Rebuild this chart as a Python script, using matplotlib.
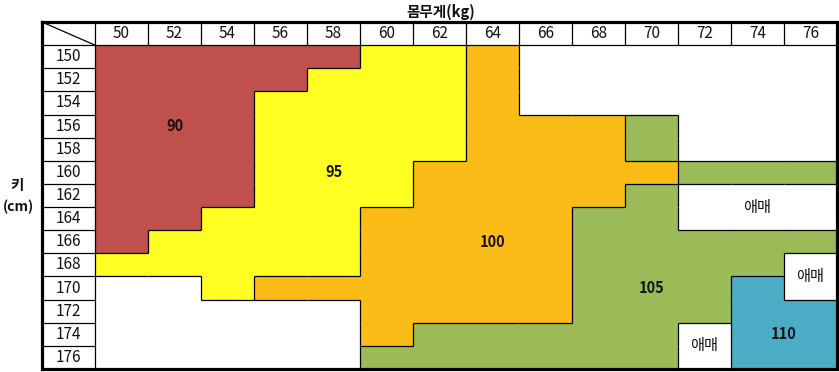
import matplotlib
matplotlib.use("Agg")
import matplotlib.pyplot as plt
import numpy as np
from matplotlib.colors import ListedColormap, BoundaryNorm
from matplotlib.collections import LineCollection

plt.rcParams['font.family'] = ['Noto Sans CJK KR', 'DejaVu Sans']

# ---- data ----
weights = [50, 52, 54, 56, 58, 60, 62, 64, 66, 68, 70, 72, 74, 76]
heights = [150, 152, 154, 156, 158, 160, 162, 164, 166, 168, 170, 172, 174, 176]
# size per (height row, weight column); 0 = blank, 1 = 애매 (ambiguous)
size_150 = [90, 90, 90, 90, 90, 95, 95, 100, 0, 0, 0, 0, 0, 0]
size_152 = [90, 90, 90, 90, 95, 95, 95, 100, 0, 0, 0, 0, 0, 0]
size_154 = [90, 90, 90, 95, 95, 95, 95, 100, 0, 0, 0, 0, 0, 0]
size_156 = [90, 90, 90, 95, 95, 95, 95, 100, 100, 100, 105, 0, 0, 0]
size_158 = [90, 90, 90, 95, 95, 95, 95, 100, 100, 100, 105, 0, 0, 0]
size_160 = [90, 90, 90, 95, 95, 95, 100, 100, 100, 100, 100, 105, 105, 105]
size_162 = [90, 90, 90, 95, 95, 95, 100, 100, 100, 100, 105, 1, 1, 1]
size_164 = [90, 90, 95, 95, 95, 100, 100, 100, 100, 105, 105, 1, 1, 1]
size_166 = [90, 95, 95, 95, 95, 100, 100, 100, 100, 105, 105, 105, 105, 105]
size_168 = [95, 95, 95, 95, 95, 100, 100, 100, 100, 105, 105, 105, 105, 1]
size_170 = [0, 0, 95, 100, 100, 100, 100, 100, 100, 105, 105, 105, 110, 1]
size_172 = [0, 0, 0, 0, 0, 100, 100, 100, 100, 105, 105, 105, 110, 110]
size_174 = [0, 0, 0, 0, 0, 100, 105, 105, 105, 105, 105, 1, 110, 110]
size_176 = [0, 0, 0, 0, 0, 105, 105, 105, 105, 105, 105, 1, 110, 110]
size_rows = [size_150, size_152, size_154, size_156, size_158, size_160, size_162,
             size_164, size_166, size_168, size_170, size_172, size_174, size_176]

size_codes = [0, 1, 90, 95, 100, 105, 110]
size_colors = ['#FFFFFF', '#FFFFFF', '#C0504D', '#FFFF21', '#FCBC18', '#9BBB59', '#4BACC6']

title_text = '몸무게(kg)'
ylabel_lines = ['키', '(cm)']
ambig_text = '애매'

# ---- figure ----
W, H = 839, 372
fig = plt.figure(figsize=(W / 100, H / 100), dpi=100)
ax = fig.add_axes([42 / W, 3 / H, 795 / W, 347 / H])
ax.set_xlim(-1, len(weights))
ax.set_ylim(len(heights), -1)
ax.set_axis_off()

grid = np.array(size_rows)
idx = np.vectorize(lambda v: size_codes.index(v))(grid)
cmap = ListedColormap(size_colors)
norm = BoundaryNorm(np.arange(-0.5, len(size_codes) + 0.5, 1), cmap.N)
xe = np.arange(0, len(weights) + 1)
ye = np.arange(0, len(heights) + 1)
ax.pcolormesh(xe, ye, idx, cmap=cmap, norm=norm, shading='flat')

segs = []
nr, nc = grid.shape
# region boundaries inside the body
for r in range(nr):
    for c in range(nc - 1):
        if grid[r, c] != grid[r, c + 1]:
            segs.append([(c + 1, r), (c + 1, r + 1)])
for r in range(nr - 1):
    for c in range(nc):
        if grid[r, c] != grid[r + 1, c]:
            segs.append([(c, r + 1), (c + 1, r + 1)])
# header separators
for c in range(nc + 1):
    segs.append([(c, -1), (c, 0)])
for r in range(nr + 1):
    segs.append([(-1, r), (0, r)])
segs.append([(0, 0), (nc, 0)])
segs.append([(0, 0), (0, nr)])
# diagonal in corner
segs.append([(-1, -1), (0, 0)])
ax.add_collection(LineCollection(segs, colors='black', linewidths=0.9))

# outer frame
frame = LineCollection([[(-1, -1), (nc, -1), (nc, nr), (-1, nr), (-1, -1)]],
                       colors='black', linewidths=2.3, capstyle='projecting',
                       joinstyle='miter')
frame.set_clip_on(False)
ax.add_collection(frame)

# header labels
for c, w in enumerate(weights):
    ax.text(c + 0.5, -0.5, str(w), ha='center', va='center', fontsize=11, color='#111111')
for r, h in enumerate(heights):
    ax.text(-0.5, r + 0.5, str(h), ha='center', va='center', fontsize=11, color='#111111')

# size labels
def col(w):
    return weights.index(w)

def row(h):
    return heights.index(h)

label_kw = dict(ha='center', va='center', fontsize=10.5, fontweight='bold', color='#111111')
ax.text(col(52) + 0.5, row(156) + 0.5, '90', **label_kw)
ax.text(col(58) + 0.5, row(160) + 0.5, '95', **label_kw)
ax.text(col(64) + 0.5, row(166) + 0.5, '100', **label_kw)
ax.text(col(70) + 0.5, row(170) + 0.5, '105', **label_kw)
ax.text(col(76), row(174) + 0.5, '110', **label_kw)

amb_kw = dict(ha='center', va='center', fontsize=11, color='#111111')
ax.text(col(74) + 0.5, row(164), ambig_text, **amb_kw)
ax.text(col(76) + 0.5, row(170), ambig_text, **amb_kw)
ax.text(col(72) + 0.5, row(176), ambig_text, **amb_kw)

# titles
fig.text(441 / W, 1 - 12 / H, title_text, ha='center', va='center',
         fontsize=10.5, fontweight='bold', color='#111111')
fig.text(17 / W, 1 - 185 / H, ylabel_lines[0], ha='center', va='center',
         fontsize=10.5, fontweight='bold', color='#111111')
fig.text(18 / W, 1 - 207 / H, ylabel_lines[1], ha='center', va='center',
         fontsize=10, fontweight='bold', color='#111111')

fig.savefig('out.png', dpi=100)
